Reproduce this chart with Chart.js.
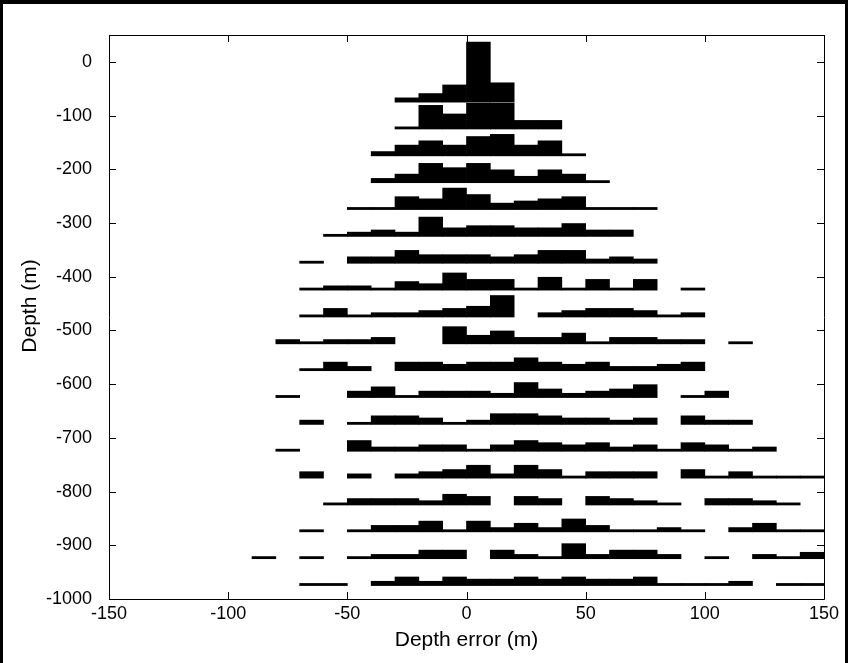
<!DOCTYPE html>
<html>
<head>
<meta charset="utf-8">
<script src="https://cdn.jsdelivr.net/npm/chart.js@4.4.0/dist/chart.umd.min.js"></script>
<style>
html,body{margin:0;padding:0;background:#fff;}
#wrap{position:relative;width:848px;height:663px;overflow:hidden;}
canvas{display:block;}
.edge{position:absolute;background:#000;}
</style>
</head>
<body>
<div id="wrap">
<canvas id="c" width="848" height="663"></canvas>
<div class="edge" style="left:0;top:0;width:848px;height:4px"></div>
<div class="edge" style="left:0;top:0;width:3px;height:663px"></div>
<div class="edge" style="right:0;top:0;width:3px;height:663px"></div>
</div>
<script>
// ---- data ----
// lower edges of the 10 m depth-error bins
const binLefts = [-90,-80,-70,-60,-50,-40,-30,-20,-10,0,10,20,30,40,50,60,70,80,90,100,110,120,130,140];
const binWidth = 10;
// depth of each histogram baseline (m)
const rowDepths = [-75,-125,-175,-225,-275,-325,-375,-425,-475,-525,-575,-625,-675,-725,-775,-825,-875,-925,-975];
// histogram counts per row, aligned with binLefts
const counts075 = [0,0,0,0,0,0,2,4,8,28,9,0,0,0,0,0,0,0,0,0,0,0,0,0];
const counts125 = [0,0,0,0,0,0,1,11,7,12,12,4,4,0,0,0,0,0,0,0,0,0,0,0];
const counts175 = [0,0,0,0,0,2,5,7,5,9,10,5,7,1,0,0,0,0,0,0,0,0,0,0];
const counts225 = [0,0,0,0,0,2,4,9,7,9,6,3,6,4,1,0,0,0,0,0,0,0,0,0];
const counts275 = [0,0,0,0,1,1,6,5,10,7,3,4,5,6,1,1,1,0,0,0,0,0,0,0];
const counts325 = [0,0,0,1,2,3,2,9,4,5,5,4,4,6,3,3,0,0,0,0,0,0,0,0];
const counts375 = [0,0,1,0,3,3,6,4,4,4,3,4,6,6,2,3,2,0,0,0,0,0,0,0];
const counts425 = [0,0,1,2,2,1,4,3,8,5,5,1,6,1,5,1,5,0,1,0,0,0,0,0];
const counts475 = [0,0,1,4,1,2,2,3,4,5,10,0,2,3,4,4,3,1,2,0,0,0,0,0];
const counts525 = [0,2,1,2,2,3,0,0,8,4,6,3,3,5,1,3,3,2,2,0,1,0,0,0];
const counts575 = [0,0,1,4,2,0,4,4,3,4,4,6,4,3,4,2,2,3,4,0,0,0,0,0];
const counts625 = [0,1,0,0,3,5,1,3,3,3,2,7,4,2,3,4,6,0,1,3,0,0,0,0];
const counts675 = [0,0,2,0,1,4,4,3,1,2,5,5,4,3,3,2,3,0,4,2,2,0,0,0];
const counts725 = [0,1,0,0,5,2,2,3,3,1,3,5,4,3,4,2,3,1,4,3,1,2,0,0];
const counts775 = [0,0,3,0,2,0,2,3,4,6,2,6,4,1,3,3,3,0,4,1,3,1,1,1];
const counts825 = [0,0,0,1,3,3,3,2,5,4,0,4,3,0,4,3,2,1,0,3,3,2,1,0];
const counts875 = [0,0,1,0,1,3,3,5,1,5,2,4,2,6,3,1,1,2,1,0,2,4,1,1];
const counts925 = [1,0,1,0,1,2,2,4,4,0,4,2,1,7,2,4,4,2,0,1,0,2,1,3];
const counts975 = [0,0,1,1,0,2,4,2,4,3,3,4,3,4,3,3,4,1,1,1,2,0,1,1];
// vertical size of one count, in metres of depth
const metresPerCount = 4;
// tick labels
const xTickValues = [-150,-100,-50,0,50,100,150];
const yTickValues = [-1000,-900,-800,-700,-600,-500,-400,-300,-200,-100,0];
const xTitle = 'Depth error (m)';
const yTitle = 'Depth (m)';

// ---- build datasets ----
const allCounts = [counts075,counts125,counts175,counts225,counts275,counts325,counts375,counts425,counts475,counts525,counts575,counts625,counts675,counts725,counts775,counts825,counts875,counts925,counts975];
const datasets = allCounts.map((row, r) => {
  const base = rowDepths[r];
  const data = [];
  row.forEach((c, i) => {
    if (c > 0) data.push({x: binLefts[i] + binWidth / 2, y: [base, base + c * metresPerCount]});
  });
  return {
    label: 'depth ' + base,
    data,
    backgroundColor: '#000',
    borderWidth: 0,
    grouped: false,
    barPercentage: 1,
    categoryPercentage: 1
  };
});

const FONT = 'Liberation Sans, Arial, Helvetica, sans-serif';

const frameTicks = {
  id: 'frameTicks',
  afterDraw(chart) {
    const {ctx, chartArea: a, scales} = chart;
    const L = 7;
    ctx.save();
    ctx.strokeStyle = '#000';
    ctx.lineWidth = 1;
    ctx.beginPath();
    ctx.rect(Math.round(a.left) + 0.5, Math.round(a.top) + 0.5, Math.round(a.right - a.left), Math.round(a.bottom - a.top));
    xTickValues.forEach(v => {
      const px = Math.round(scales.x.getPixelForValue(v)) + 0.5;
      ctx.moveTo(px, a.bottom); ctx.lineTo(px, a.bottom - L);
      ctx.moveTo(px, a.top); ctx.lineTo(px, a.top + L);
    });
    yTickValues.forEach(v => {
      const py = Math.round(scales.y.getPixelForValue(v)) + 0.5;
      ctx.moveTo(a.left, py); ctx.lineTo(a.left + L, py);
      ctx.moveTo(a.right, py); ctx.lineTo(a.right - L, py);
    });
    ctx.stroke();
    // y-axis title (slightly above the axis centre, as in the reference)
    ctx.fillStyle = '#000';
    ctx.font = '21px ' + FONT;
    ctx.textAlign = 'center';
    ctx.textBaseline = 'middle';
    ctx.translate(30, (a.top + a.bottom) / 2 - 11);
    ctx.rotate(-Math.PI / 2);
    ctx.fillText(yTitle, 0, 0);
    ctx.restore();
  }
};

new Chart(document.getElementById('c'), {
  type: 'bar',
  data: {datasets},
  options: {
    responsive: false,
    animation: false,
    devicePixelRatio: 1,
    layout: {padding: {left: 0, top: 35, right: 24, bottom: 0}},
    plugins: {legend: {display: false}, tooltip: {enabled: false}},
    scales: {
      x: {
        type: 'linear',
        offset: false,
        min: -150, max: 150,
        afterBuildTicks: s => { s.ticks = xTickValues.map(v => ({value: v})); },
        afterFit: s => { s.height = 64; },
        grid: {display: false, drawTicks: false},
        border: {display: false},
        ticks: {color: '#000', padding: 4, font: {family: FONT, size: 18}, maxRotation: 0, callback: v => String(v)},
        title: {display: true, text: xTitle, color: '#000', font: {family: FONT, size: 21}, padding: {top: 0, bottom: 10}}
      },
      y: {
        type: 'linear',
        min: -1000, max: 50,
        afterBuildTicks: s => { s.ticks = yTickValues.map(v => ({value: v})); },
        afterFit: s => { s.width = 109; },
        grid: {display: false, drawTicks: false},
        border: {display: false},
        ticks: {color: '#000', padding: 17, font: {family: FONT, size: 18}, callback: v => String(v)},
        title: {display: false}
      }
    }
  },
  plugins: [frameTicks]
});
</script>
</body>
</html>
